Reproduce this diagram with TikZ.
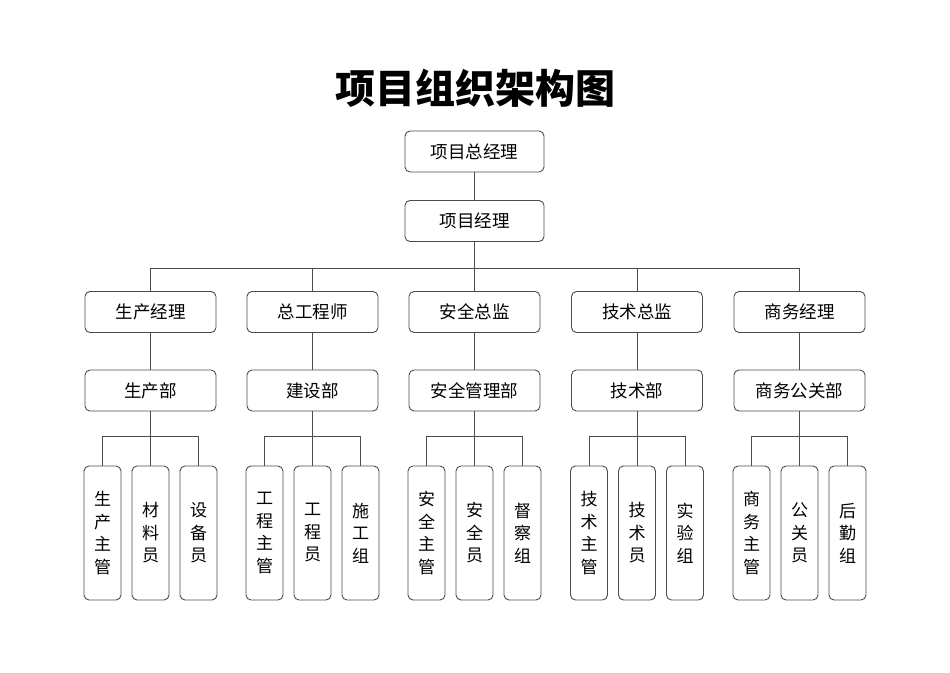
\documentclass[tikz,border=0pt]{standalone}
\usepackage{fontspec}
\setmainfont{Noto Sans CJK SC}
\begin{document}
\begin{tikzpicture}[x=1pt,y=-1pt,
  box/.style={draw=black!70,rounded corners=5pt,line width=0.9pt,minimum width=131pt,minimum height=41pt,inner sep=0pt,font=\fontsize{17.5}{20}\selectfont},
  topbox/.style={box,minimum width=139pt},
  leaf/.style={draw=black!70,rounded corners=5pt,line width=0.9pt,minimum width=37pt,minimum height=134pt,inner sep=0pt,align=center,font=\fontsize{17}{22.5}\selectfont},
  link/.style={draw=black!70,line width=0.9pt}]
\useasboundingbox (0,0) rectangle (950,672);
\node (title) at (475,88) {\fontsize{40}{42}\selectfont\bfseries 项目组织架构图};
\node[topbox] (gm) at (474.5,151.5) {项目总经理};
\node[topbox] (pm) at (474.5,221) {项目经理};
\coordinate (bus) at (474.5,268.3);
\node[box] (m1) at (150.5,312) {生产经理};
\node[box] (m2) at (312.5,312) {总工程师};
\node[box] (m3) at (474.5,312) {安全总监};
\node[box] (m4) at (637,312) {技术总监};
\node[box] (m5) at (799.5,312) {商务经理};
\node[box] (d1) at (150.5,390.5) {生产部};
\node[box] (d2) at (312.5,390.5) {建设部};
\node[box] (d3) at (474.5,390.5) {安全管理部};
\node[box] (d4) at (637,390.5) {技术部};
\node[box] (d5) at (799.5,390.5) {商务公关部};
\node[leaf] (l1a) at (102.5,533) {生\\产\\主\\管};
\node[leaf] (l1b) at (150.5,533) {材\\料\\员};
\node[leaf] (l1c) at (198.5,533) {设\\备\\员};
\node[leaf] (l2a) at (264.5,533) {工\\程\\主\\管};
\node[leaf] (l2b) at (312.5,533) {工\\程\\员};
\node[leaf] (l2c) at (360.5,533) {施\\工\\组};
\node[leaf] (l3a) at (426.5,533) {安\\全\\主\\管};
\node[leaf] (l3b) at (474.5,533) {安\\全\\员};
\node[leaf] (l3c) at (522.5,533) {督\\察\\组};
\node[leaf] (l4a) at (589,533) {技\\术\\主\\管};
\node[leaf] (l4b) at (637,533) {技\\术\\员};
\node[leaf] (l4c) at (685,533) {实\\验\\组};
\node[leaf] (l5a) at (751.5,533) {商\\务\\主\\管};
\node[leaf] (l5b) at (799.5,533) {公\\关\\员};
\node[leaf] (l5c) at (847.5,533) {后\\勤\\组};
\draw[link] (gm) -- (pm);
\draw[link] (pm) -- (bus);
\draw[link] (bus) -| (m1);
\draw[link] (bus) -| (m2);
\draw[link] (bus) -- (m3);
\draw[link] (bus) -| (m4);
\draw[link] (bus) -| (m5);
\draw[link] (m1) -- (d1);
\draw[link] (m2) -- (d2);
\draw[link] (m3) -- (d3);
\draw[link] (m4) -- (d4);
\draw[link] (m5) -- (d5);
\draw[link] (d1) -- (l1b);
\draw[link] (l1a.north) -- ++(0,-28.7) -| (l1c.north);
\draw[link] (d2) -- (l2b);
\draw[link] (l2a.north) -- ++(0,-28.7) -| (l2c.north);
\draw[link] (d3) -- (l3b);
\draw[link] (l3a.north) -- ++(0,-28.7) -| (l3c.north);
\draw[link] (d4) -- (l4b);
\draw[link] (l4a.north) -- ++(0,-28.7) -| (l4c.north);
\draw[link] (d5) -- (l5b);
\draw[link] (l5a.north) -- ++(0,-28.7) -| (l5c.north);
\end{tikzpicture}
\end{document}
